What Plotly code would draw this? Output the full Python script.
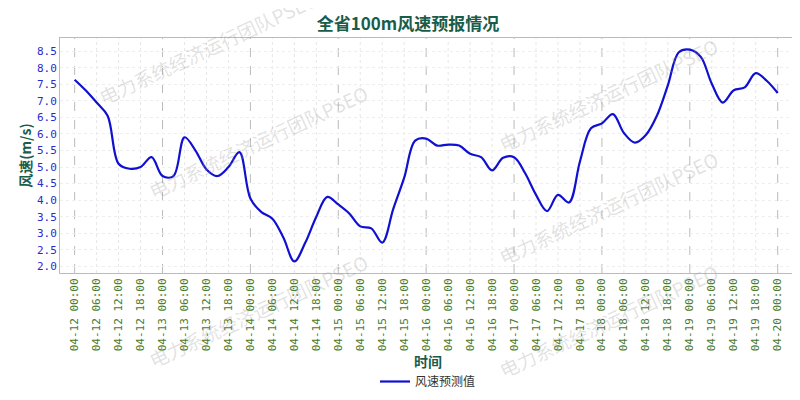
import plotly.graph_objects as go
import pandas as pd

start = "2024-04-12 00:00"
speed = [7.64,7.32,6.95,6.55,5.1,4.95,5.0,5.3,4.73,4.73,5.9,5.5,4.93,4.73,5.0,5.45,
         4.05,3.64,3.44,2.87,2.15,2.72,3.5,4.1,3.87,3.6,3.21,3.15,2.72,3.73,4.68,5.8,
         5.86,5.65,5.68,5.65,5.4,5.3,4.9,5.28,5.3,4.82,4.16,3.67,4.16,3.93,5.17,6.17,
         6.32,6.6,6.03,5.74,5.97,6.55,7.47,8.47,8.55,8.33,7.52,6.95,7.32,7.41,7.84,7.61,7.24]
times = pd.date_range(start, periods=len(speed), freq="3h")
tickvals = pd.date_range(start, "2024-04-20 00:00", freq="6h")
ticktext = [t.strftime("%m-%d %H:%M") for t in tickvals]

F = "Noto Sans CJK SC"
fig = go.Figure(go.Scatter(x=times, y=speed, mode="lines", name="风速预测值",
                           line=dict(color="#1010d0", width=2.2, shape="spline")))
shapes = []
for i, t in enumerate(tickvals):
    daily = t.hour == 0
    shapes.append(dict(type="line", xref="x", yref="paper", x0=t, x1=t, y0=0, y1=1,
                       line=dict(color="#bbbbbb" if daily else "#e6e6e6", width=1,
                                 dash="dash" if daily else "dot"), layer="below"))
ann = []
for (x, y) in [(200, 40), (250, 140), (250, 320), (600, 90), (600, 210), (600, 330)]:
    ann.append(dict(text="电力系统经济运行团队PSEO", xref="paper", yref="paper",
                    x=(x - 52) / 736, y=(280 - y) / 250, showarrow=False, textangle=-25,
                    xanchor="center", yanchor="middle",
                    font=dict(family=F, size=19, color="rgba(150,150,150,0.28)")))
fig.update_layout(
    width=800, height=400, margin=dict(l=52, r=12, t=30, b=120),
    plot_bgcolor="white", paper_bgcolor="white",
    title=dict(text="<b>全省100m风速预报情况</b>", x=0.5, y=0.975, xanchor="center",
               font=dict(family=F, size=17, color="#1a5c4a")),
    shapes=shapes, annotations=ann,
    showlegend=True,
    legend=dict(orientation="h", x=0.5, xanchor="center", y=-0.40, yanchor="top",
                font=dict(family=F, size=12, color="#333")),
    xaxis=dict(tickvals=tickvals, ticktext=ticktext, tickangle=-90, showgrid=False, automargin=False,
               range=[pd.Timestamp("2024-04-11 20:00"), pd.Timestamp("2024-04-20 05:00")],
               tickfont=dict(family="DejaVu Sans Mono", size=11, color="#4a7a2a"),
               showline=True, linecolor="#bbbbbb", mirror=True,
               title=dict(text="<b>时间</b>", font=dict(family=F, size=14, color="#1a5c4a"), standoff=0)),
    yaxis=dict(range=[1.8, 8.9], dtick=0.5, tickformat=".1f", showgrid=True, gridcolor="#eeeeee",
               griddash="dot", zeroline=False, automargin=False,
               tickfont=dict(family="DejaVu Sans Mono", size=11, color="#2a2ad0"),
               showline=True, linecolor="#bbbbbb", mirror=True,
               title=dict(text="<b>风速(m/s)</b>", font=dict(family=F, size=14, color="#1a5c4a"), standoff=2)),
)
fig.write_html("out.html")
